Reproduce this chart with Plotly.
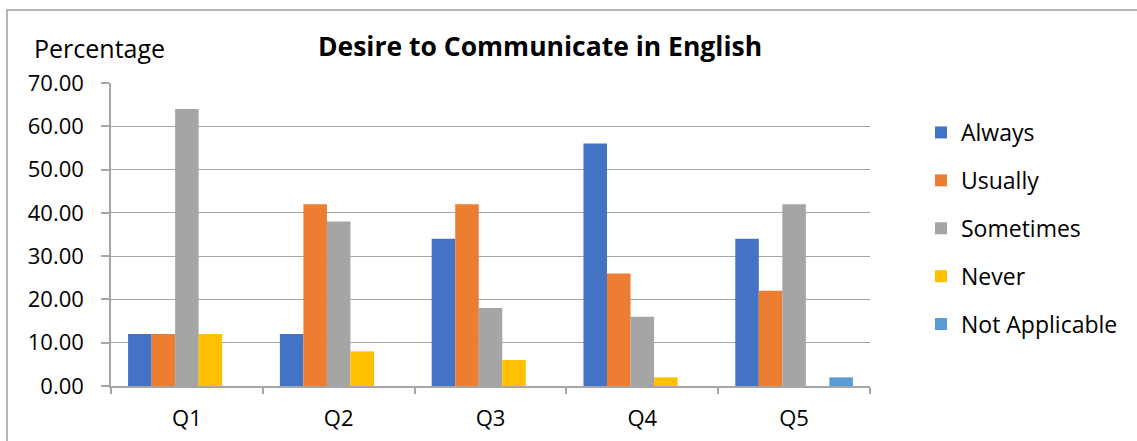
import plotly.graph_objects as go

categories = ["Q1", "Q2", "Q3", "Q4", "Q5"]
series_names = ["Always", "Usually", "Sometimes", "Never", "Not Applicable"]
always = [12, 12, 34, 56, 34]
usually = [12, 42, 42, 26, 22]
sometimes = [64, 38, 18, 16, 42]
never = [12, 8, 6, 2, 0]
not_applicable = [0, 0, 0, 0, 2]
colors = ["#4472C4", "#ED7D31", "#A5A5A5", "#FFC000", "#5B9BD5"]

FONT = "Open Sans"
W, H = 1137, 441
L, R, T, B = 111, 267, 83, 55
pw, ph = W - L - R, H - T - B

fig = go.Figure()
for i, (name, vals) in enumerate(zip(series_names, [always, usually, sometimes, never, not_applicable])):
    fig.add_trace(go.Bar(x=categories, y=vals, name=name, marker=dict(color=colors[i], line=dict(width=0)),
                         legendgroup=f"g{i}"))

def px_x(p):
    return (p - L) / pw

def px_y(p):
    return 1 - (p - T) / ph

fig.update_layout(
    width=W, height=H,
    margin=dict(l=L, r=R, t=T, b=B, autoexpand=False),
    paper_bgcolor="white", plot_bgcolor="white",
    barmode="group", bargap=0.225, bargroupgap=0,
    font=dict(family=FONT, size=22, color="#000000"),
    title=dict(text="<b>Desire to Communicate in English</b>", x=540 / W, xanchor="center",
               y=1 - 47 / H, yanchor="middle", font=dict(family=FONT, size=26.5, color="#000000")),
    legend=dict(x=px_x(921), xanchor="left", y=px_y(111), yanchor="top",
                font=dict(family=FONT, size=23), traceorder="grouped", tracegroupgap=15,
                itemwidth=30, bgcolor="rgba(0,0,0,0)"),
    xaxis=dict(showline=True, linecolor="#a6a6a6", linewidth=1.5, ticks="outside", tickson="boundaries",
               ticklen=6, tickcolor="#a6a6a6", tickwidth=1.5, ticklabelstandoff=12,
               tickfont=dict(family=FONT, size=22)),
    yaxis=dict(range=[0, 70], dtick=10, tickformat=".2f", showline=True, linecolor="#a6a6a6", linewidth=1.5,
               ticks="outside", ticklen=8, tickcolor="#a6a6a6", tickwidth=1.5,
               showgrid=True, gridcolor="#a6a6a6", gridwidth=1.2, zeroline=False,
               tickfont=dict(family=FONT, size=22), ticklabelstandoff=13),
    annotations=[dict(text="Percentage", xref="paper", yref="paper", x=px_x(32), y=px_y(48),
                      xanchor="left", yanchor="middle", showarrow=False,
                      font=dict(family=FONT, size=25, color="#000000"))],
    shapes=[dict(type="rect", xref="paper", yref="paper", x0=px_x(7), x1=px_x(1145), y0=px_y(450), y1=px_y(10),
                 line=dict(color="#a0a0a0", width=1.5), fillcolor="rgba(0,0,0,0)", layer="below")],
)

fig.write_html("out.html", post_script="document.body.style.margin='0px';",
               config={"displayModeBar": False})
